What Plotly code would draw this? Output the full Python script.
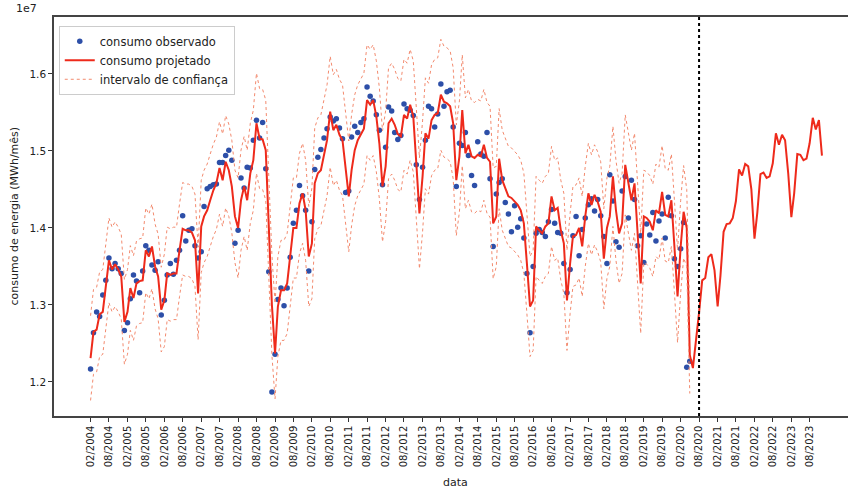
import pandas as pd
import plotly.graph_objects as go

# Values in units of 1e7 MWh/mês, monthly from 02/2004
observado = [
    1.217, 1.264, 1.291, 1.285, 1.313, 1.332, 1.361, 1.347, 1.354, 1.347, 1.341, 1.267,
    1.277, 1.308, 1.339, 1.331, 1.316, 1.344, 1.377, 1.371, 1.352, 1.345, 1.356, 1.287,
    1.306, 1.339, 1.354, 1.340, 1.358, 1.371, 1.416, 1.383, 1.397, 1.399, 1.377, 1.361,
    1.369, 1.428, 1.451, 1.454, 1.456, 1.457, 1.485, 1.485, 1.494, 1.501, 1.488, 1.380,
    1.397, 1.465, 1.452, 1.479, 1.478, 1.514, 1.540, 1.517, 1.537, 1.477, 1.343, 1.187,
    1.236, 1.307, 1.322, 1.299, 1.322, 1.362, 1.406, 1.423, 1.455, 1.442, 1.423, 1.344,
    1.408, 1.476, 1.492, 1.502, 1.517, 1.529, 1.544, 1.539, 1.542, 1.530, 1.516, 1.446,
    1.448, 1.518, 1.532, 1.524, 1.537, 1.542, 1.583, 1.571, 1.565, 1.547, 1.527, 1.456,
    1.505, 1.557, 1.552, 1.524, 1.515, 1.520, 1.561, 1.555, 1.553, 1.546, 1.482, 1.437,
    1.479, 1.514, 1.558, 1.555, 1.531, 1.548, 1.587, 1.558, 1.577, 1.579, 1.531, 1.454,
    1.510, 1.507, 1.524, 1.494, 1.468, 1.455, 1.512, 1.496, 1.493, 1.524, 1.464, 1.376,
    1.444, 1.459, 1.464, 1.433, 1.418, 1.395, 1.429, 1.401, 1.412, 1.387, 1.341, 1.264,
    1.350, 1.393, 1.398, 1.394, 1.389, 1.408, 1.424, 1.406, 1.394, 1.393, 1.354, 1.316,
    1.346, 1.390, 1.415, 1.364, 1.398, 1.413, 1.430, 1.438, 1.422, 1.437, 1.416, 1.389,
    1.354, 1.469, 1.435, 1.382, 1.375, 1.448, 1.467, 1.413, 1.462, 1.437, 1.377, 1.390,
    1.355, 1.405, 1.391, 1.420, 1.383, 1.409, 1.418, 1.387, 1.440, 1.416, 1.360, 1.350,
    1.373, 1.407, 1.219, 1.227,
]

projetado = [
    1.231, 1.265, 1.268, 1.288, 1.291, 1.328, 1.358, 1.346, 1.353, 1.346, 1.337, 1.278,
    1.291, 1.322, 1.309, 1.328, 1.331, 1.332, 1.371, 1.363, 1.376, 1.350, 1.337, 1.294,
    1.306, 1.341, 1.339, 1.341, 1.341, 1.371, 1.399, 1.397, 1.397, 1.394, 1.384, 1.315,
    1.402, 1.415, 1.423, 1.436, 1.449, 1.458, 1.478, 1.462, 1.486, 1.475, 1.454, 1.415,
    1.400, 1.436, 1.454, 1.436, 1.471, 1.488, 1.536, 1.516, 1.515, 1.501, 1.400, 1.300,
    1.237, 1.298, 1.319, 1.319, 1.328, 1.363, 1.400, 1.400, 1.432, 1.445, 1.423, 1.363,
    1.380, 1.458, 1.471, 1.475, 1.497, 1.514, 1.551, 1.527, 1.534, 1.521, 1.514, 1.475,
    1.441, 1.475, 1.501, 1.514, 1.521, 1.529, 1.566, 1.560, 1.566, 1.545, 1.510, 1.454,
    1.480, 1.536, 1.542, 1.534, 1.522, 1.519, 1.547, 1.542, 1.560, 1.545, 1.484, 1.419,
    1.467, 1.523, 1.516, 1.540, 1.547, 1.549, 1.573, 1.564, 1.562, 1.558, 1.536, 1.462,
    1.493, 1.553, 1.497, 1.508, 1.493, 1.491, 1.495, 1.493, 1.508, 1.491, 1.486, 1.406,
    1.415, 1.490, 1.462, 1.452, 1.441, 1.439, 1.434, 1.430, 1.423, 1.406, 1.354, 1.298,
    1.306, 1.402, 1.397, 1.393, 1.402, 1.406, 1.441, 1.423, 1.426, 1.397, 1.380, 1.306,
    1.354, 1.389, 1.391, 1.400, 1.376, 1.415, 1.445, 1.430, 1.443, 1.434, 1.421, 1.360,
    1.400, 1.415, 1.467, 1.423, 1.393, 1.406, 1.482, 1.458, 1.436, 1.458, 1.397, 1.328,
    1.415, 1.413, 1.408, 1.397, 1.423, 1.419, 1.447, 1.417, 1.415, 1.436, 1.376, 1.311,
    1.376, 1.421, 1.400, 1.235, 1.218, 1.250, 1.290, 1.332, 1.335, 1.362, 1.366, 1.345,
    1.298, 1.338, 1.395, 1.405, 1.406, 1.413, 1.435, 1.476, 1.468, 1.483, 1.480, 1.450,
    1.386, 1.420, 1.470, 1.472, 1.465, 1.467, 1.484, 1.523, 1.508, 1.521, 1.514, 1.471,
    1.414, 1.445, 1.496, 1.495, 1.488, 1.490, 1.510, 1.543, 1.528, 1.540, 1.494,
]

ic_superior = [
    1.286, 1.320, 1.323, 1.343, 1.346, 1.383, 1.413, 1.401, 1.408, 1.401, 1.392, 1.333,
    1.346, 1.377, 1.364, 1.383, 1.386, 1.387, 1.426, 1.418, 1.431, 1.405, 1.392, 1.349,
    1.366, 1.401, 1.399, 1.401, 1.401, 1.431, 1.459, 1.457, 1.457, 1.454, 1.444, 1.375,
    1.462, 1.475, 1.483, 1.496, 1.509, 1.518, 1.538, 1.522, 1.546, 1.535, 1.514, 1.475,
    1.465, 1.501, 1.519, 1.501, 1.536, 1.553, 1.601, 1.581, 1.580, 1.566, 1.465, 1.365,
    1.302, 1.363, 1.384, 1.384, 1.393, 1.428, 1.465, 1.465, 1.497, 1.510, 1.488, 1.428,
    1.452, 1.530, 1.543, 1.547, 1.569, 1.586, 1.623, 1.599, 1.606, 1.593, 1.586, 1.547,
    1.513, 1.547, 1.573, 1.586, 1.593, 1.601, 1.638, 1.632, 1.638, 1.617, 1.582, 1.526,
    1.552, 1.608, 1.614, 1.606, 1.594, 1.591, 1.619, 1.614, 1.632, 1.617, 1.556, 1.491,
    1.539, 1.595, 1.588, 1.612, 1.619, 1.621, 1.645, 1.636, 1.634, 1.630, 1.608, 1.534,
    1.565, 1.625, 1.569, 1.580, 1.565, 1.563, 1.567, 1.565, 1.580, 1.563, 1.558, 1.478,
    1.480, 1.555, 1.527, 1.517, 1.506, 1.504, 1.499, 1.495, 1.488, 1.471, 1.419, 1.363,
    1.371, 1.467, 1.462, 1.458, 1.467, 1.471, 1.506, 1.488, 1.491, 1.462, 1.445, 1.371,
    1.419, 1.454, 1.456, 1.465, 1.441, 1.480, 1.510, 1.495, 1.508, 1.499, 1.486, 1.425,
    1.465, 1.480, 1.532, 1.488, 1.458, 1.471, 1.547, 1.523, 1.501, 1.523, 1.462, 1.393,
    1.475, 1.473, 1.468, 1.457, 1.483, 1.479, 1.507, 1.477, 1.475, 1.496, 1.436, 1.371,
    1.436, 1.481, 1.450, 1.285,
]

ic_inferior = [
    1.176, 1.210, 1.213, 1.233, 1.236, 1.273, 1.303, 1.291, 1.298, 1.291, 1.282, 1.223,
    1.236, 1.267, 1.254, 1.273, 1.276, 1.277, 1.316, 1.308, 1.321, 1.295, 1.282, 1.239,
    1.246, 1.281, 1.279, 1.281, 1.281, 1.311, 1.339, 1.337, 1.337, 1.334, 1.324, 1.255,
    1.342, 1.355, 1.363, 1.376, 1.389, 1.398, 1.418, 1.402, 1.426, 1.415, 1.394, 1.355,
    1.335, 1.371, 1.389, 1.371, 1.406, 1.423, 1.471, 1.451, 1.450, 1.436, 1.335, 1.235,
    1.178, 1.233, 1.254, 1.254, 1.263, 1.298, 1.335, 1.335, 1.367, 1.380, 1.358, 1.298,
    1.308, 1.386, 1.399, 1.403, 1.425, 1.442, 1.479, 1.455, 1.462, 1.449, 1.442, 1.403,
    1.369, 1.403, 1.429, 1.442, 1.449, 1.457, 1.494, 1.488, 1.494, 1.473, 1.438, 1.382,
    1.408, 1.464, 1.470, 1.462, 1.450, 1.447, 1.475, 1.470, 1.488, 1.473, 1.412, 1.347,
    1.395, 1.451, 1.444, 1.468, 1.475, 1.477, 1.501, 1.492, 1.490, 1.486, 1.464, 1.390,
    1.421, 1.481, 1.425, 1.436, 1.421, 1.419, 1.423, 1.421, 1.436, 1.419, 1.414, 1.334,
    1.350, 1.425, 1.397, 1.387, 1.376, 1.374, 1.369, 1.365, 1.358, 1.341, 1.289, 1.233,
    1.241, 1.337, 1.332, 1.328, 1.337, 1.341, 1.376, 1.358, 1.361, 1.332, 1.315, 1.241,
    1.289, 1.324, 1.326, 1.335, 1.311, 1.350, 1.380, 1.365, 1.378, 1.369, 1.356, 1.295,
    1.335, 1.350, 1.402, 1.358, 1.328, 1.341, 1.417, 1.393, 1.371, 1.393, 1.332, 1.263,
    1.355, 1.353, 1.348, 1.337, 1.363, 1.359, 1.387, 1.357, 1.355, 1.376, 1.316, 1.251,
    1.316, 1.361, 1.350, 1.185,
]

inicio = "2004-02-01"
marco_previsao = "2020-08-01"
tick_inicio, tick_fim = "2004-02-01", "2023-08-01"
y_ticks = [1.2, 1.3, 1.4, 1.5, 1.6]

datas_proj = pd.date_range(inicio, periods=len(projetado), freq="MS")
datas_obs = datas_proj[: len(observado)]
datas_ic = datas_proj[: len(ic_superior)]
tick_datas = pd.date_range(tick_inicio, tick_fim, freq="6MS")
tick_textos = [d.strftime("%m/%Y") for d in tick_datas]

FONT = "DejaVu Sans"
VERMELHO = "#EE2A1B"
IC_COR = "#F38A6E"
AZUL = "#2D4FA8"

fig = go.Figure()
fig.add_trace(go.Scatter(
    x=datas_obs, y=observado, mode="markers", name="consumo observado",
    marker=dict(color=AZUL, size=5.5),
))
fig.add_trace(go.Scatter(
    x=datas_proj, y=projetado, mode="lines", name="consumo projetado",
    line=dict(color=VERMELHO, width=2),
))
fig.add_trace(go.Scatter(
    x=datas_ic, y=ic_superior, mode="lines", name="intervalo de confiança",
    legendgroup="ic", line=dict(color=IC_COR, width=1, dash="dot"),
))
fig.add_trace(go.Scatter(
    x=datas_ic, y=ic_inferior, mode="lines", name="intervalo de confiança",
    legendgroup="ic", showlegend=False, line=dict(color=IC_COR, width=1, dash="dot"),
))

fig.add_shape(type="line", xref="x", yref="paper", x0=marco_previsao, x1=marco_previsao,
              y0=0, y1=1, line=dict(color="black", width=2, dash="dot"))

fig.update_layout(
    width=848, height=490,
    margin=dict(l=54, r=0, t=17, b=74),
    paper_bgcolor="white", plot_bgcolor="white",
    font=dict(family=FONT, size=10, color="#222"),
    showlegend=True,
    legend=dict(
        x=0.006, y=0.978, xanchor="left", yanchor="top",
        bgcolor="rgba(255,255,255,0.9)", bordercolor="#cccccc", borderwidth=1,
        font=dict(family=FONT, size=11.5, color="#222"),
        tracegroupgap=0, itemwidth=30,
    ),
    xaxis=dict(
        type="date",
        range=["2003-02-04", "2024-08-15"],
        tickvals=list(tick_datas), ticktext=tick_textos, tickangle=-90,
        ticks="outside", ticklen=4, tickcolor="#333", tickwidth=1,
        showline=True, linecolor="#444", linewidth=1.5, mirror=True,
        showgrid=False, zeroline=False,
        tickfont=dict(family=FONT, size=10, color="#222"),
    ),
    yaxis=dict(
        range=[1.1558, 1.674],
        tickvals=y_ticks, ticktext=[f"{v:.1f}" for v in y_ticks],
        ticks="outside", ticklen=4, tickcolor="#333", tickwidth=1,
        showline=True, linecolor="#444", linewidth=1.5, mirror=False,
        showgrid=False, zeroline=False,
        tickfont=dict(family=FONT, size=10.5, color="#222"),
    ),
    annotations=[
        dict(text="1e7", xref="paper", yref="paper", x=-0.05, y=1.0, xanchor="left",
             yanchor="bottom", showarrow=False, font=dict(family=FONT, size=11, color="#222")),
        dict(text="data", xref="paper", yref="paper", x=(455 - 54) / 794, y=0,
             yshift=-75, xanchor="center", yanchor="bottom", showarrow=False,
             font=dict(family=FONT, size=11, color="#222")),
        dict(text="consumo de energia (MWh/mês)", xref="paper", yref="paper",
             x=0, xshift=-40, y=0.5, textangle=-90, xanchor="center", yanchor="middle",
             showarrow=False, font=dict(family=FONT, size=11, color="#222")),
    ],
)

fig.write_html("out.html")
